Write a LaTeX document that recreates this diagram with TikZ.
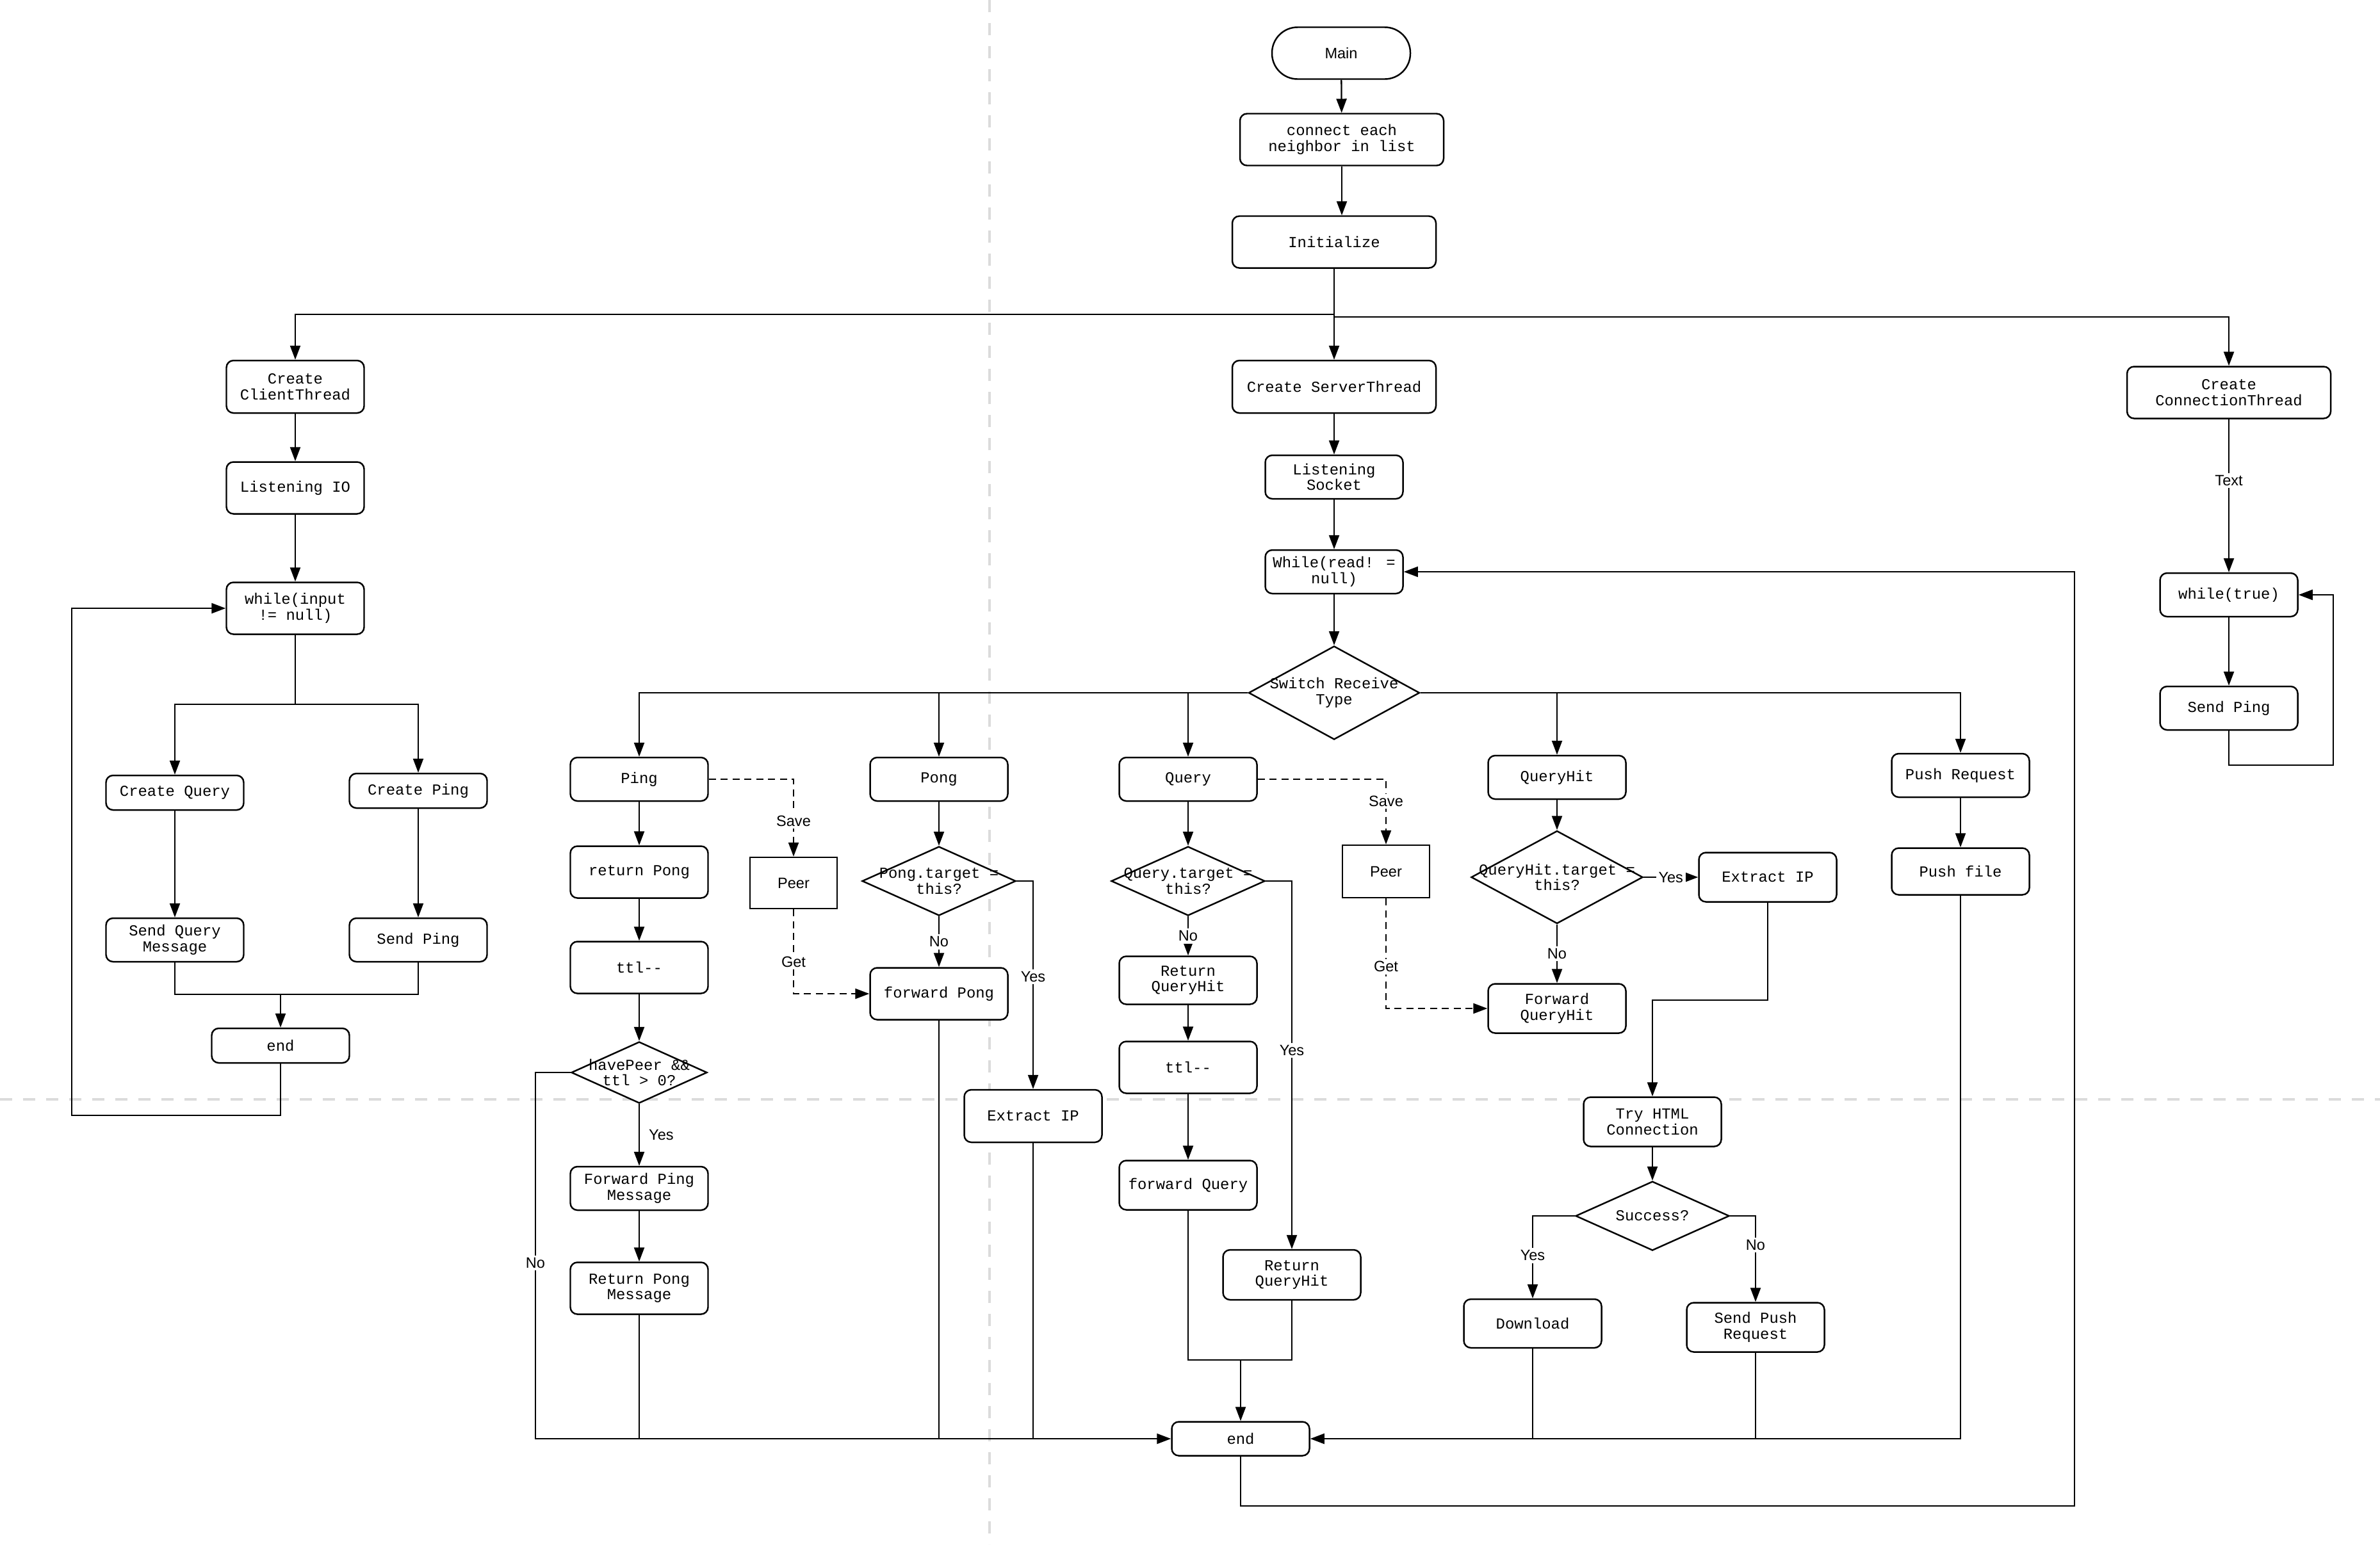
\documentclass[tikz,border=0pt]{standalone}
\usepackage{fontspec}
\setmainfont{Liberation Sans}
\newfontfamily\codefont{Liberation Mono}
\usepackage{tikz}
\usetikzlibrary{arrows.meta,shapes.geometric}
\newcommand{\boxfont}{\codefont\fontsize{6.8}{7}\selectfont}
\newcommand{\lblfont}{\fontsize{6.7}{7}\selectfont}

\begin{document}
\begin{tikzpicture}[
    >={Triangle[length=0.22cm,width=0.16cm]},
    proc/.style={draw, fill=white, rounded corners=0.11cm, line width=0.7pt,
      minimum width=2.15cm, minimum height=0.81cm, inner sep=1pt,
      align=center, font=\boxfont},
    wide/.style={proc, minimum width=3.18cm},
    short/.style={minimum height=0.68cm},
    flat/.style={minimum height=0.54cm},
    start/.style={draw, fill=white, rounded corners=0.4cm, line width=0.7pt,
      minimum width=2.16cm, minimum height=0.81cm, font=\lblfont},
    store/.style={draw, fill=white, line width=0.7pt, minimum width=1.36cm,
      minimum height=0.81cm, font=\lblfont},
    decision/.style={diamond, draw, fill=white, line width=0.7pt, inner sep=0pt,
      minimum width=2.4cm, minimum height=1.08cm},
    dtext/.style={align=center, font=\boxfont, inner sep=0pt},
    link/.style={line width=0.65pt},
    save/.style={line width=0.65pt, dash pattern=on 0.11cm off 0.075cm},
    lbl/.style={fill=white, inner sep=1pt, font=\lblfont},
    guide/.style={draw=black!14, line width=1.3pt, dash pattern=on 0.19cm off 0.17cm}]
  \fill [white] (0,0) rectangle (37.16,-24.12);
  \useasboundingbox (0,0) rectangle (37.16,-24.12);
  \draw [guide] (15.45,0) -- (15.45,-24.12);
  \draw [guide] (0,-17.17) -- (37.16,-17.17);

  \node [start] (MA) at (20.94, -0.83) {Main};
  \node [wide] (MB) at (20.95, -2.18) {connect each\\neighbor in list};
  \node [wide] (MC) at (20.83, -3.78) {Initialize};
  \coordinate (BL) at (20.83, -4.91);
  \coordinate (BR) at (20.83, -4.95);

  \node [proc, minimum height=0.82cm] (LA) at (4.61, -6.04) {Create\\ClientThread};
  \node [proc] (LB) at (4.61, -7.62) {Listening IO};
  \node [proc] (LC) at (4.61, -9.50) {while(input\\!= null)};
  \coordinate (LS) at (4.61, -11.0);
  \node [proc, flat] (LD) at (2.73, -12.38) {Create Query};
  \node [proc, flat] (LE) at (6.53, -12.35) {Create Ping};
  \node [proc, short] (LF) at (2.73, -14.68) {Send Query\\Message};
  \node [proc, short] (LG) at (6.53, -14.68) {Send Ping};
  \coordinate (LM) at (4.38, -15.53);
  \node [proc, flat] (LH) at (4.38, -16.33) {end};
  \coordinate (LX) at (1.12, -17.42);

  \node [wide, minimum height=0.82cm] (SA) at (20.83, -6.04) {Create ServerThread};
  \node [proc, short] (SB) at (20.83, -7.45) {Listening\\Socket};
  \node [proc, short] (SC) at (20.83, -8.93) {While(read! =\\null)};
  \node [decision, minimum width=2.67cm, minimum height=1.46cm,
    label={[dtext]center:{Switch Receive\\Type}}] (SD) at (20.83, -10.82) {};

  \node [proc, short] (PA) at (9.98, -12.17) {Ping};
  \node [proc] (PB) at (9.98, -13.62) {return Pong};
  \node [proc] (PC) at (9.98, -15.11) {ttl-{}-};
  \node [decision, minimum width=2.12cm, minimum height=0.96cm,
    label={[dtext]center:{havePeer \&\&\\ttl > 0?}}] (PD) at (9.98, -16.75) {};
  \coordinate (PX) at (8.36, -16.75);
  \node [proc, short] (PE) at (9.98, -18.56) {Forward Ping\\Message};
  \node [proc] (PF) at (9.98, -20.12) {Return Pong\\Message};
  \node [store, minimum height=0.80cm] (PP) at (12.39, -13.79) {Peer};

  \node [proc, short] (OA) at (14.66, -12.17) {Pong};
  \node [decision, label={[dtext]center:{Pong.target =\\this?}}] (OB) at (14.66, -13.76) {};
  \node [proc] (OC) at (14.66, -15.52) {forward Pong};
  \node [proc, minimum height=0.82cm] (OD) at (16.13, -17.43) {Extract IP};

  \node [proc, short] (QA) at (18.55, -12.17) {Query};
  \node [decision, label={[dtext]center:{Query.target =\\this?}}] (QB) at (18.55, -13.76) {};
  \node [proc, minimum height=0.75cm] (QC) at (18.55, -15.31) {Return\\QueryHit};
  \node [proc] (QD) at (18.55, -16.67) {ttl-{}-};
  \node [proc, minimum height=0.77cm] (QE) at (18.55, -18.51) {forward Query};
  \node [proc, minimum height=0.78cm] (QF) at (20.17, -19.91) {Return\\QueryHit};
  \coordinate (QM) at (19.37, -21.24);
  \node [store, minimum height=0.82cm] (QP) at (21.64, -13.61) {Peer};

  \node [proc, short] (HA) at (24.31, -12.14) {QueryHit};
  \node [decision, minimum width=2.68cm, minimum height=1.45cm,
    label={[dtext]center:{QueryHit.target =\\this?}}] (HB) at (24.31, -13.70) {};
  \node [proc, minimum height=0.77cm] (HC) at (24.31, -15.75) {Forward\\QueryHit};
  \node [proc, minimum height=0.77cm] (HD) at (27.60, -13.70) {Extract IP};
  \coordinate (HY) at (25.80, -15.62);
  \node [proc, minimum height=0.77cm] (HE) at (25.80, -17.52) {Try HTML\\Connection};
  \node [decision, label={[dtext]center:{Success?}}] (HF) at (25.80, -18.99) {};
  \node [proc, minimum height=0.76cm] (HG) at (23.93, -20.67) {Download};
  \node [proc, minimum height=0.77cm] (HH) at (27.41, -20.73) {Send Push\\Request};

  \node [proc, short] (RA) at (30.61, -12.11) {Push Request};
  \node [proc, minimum height=0.73cm] (RB) at (30.61, -13.61) {Push file};

  \node [proc, minimum height=0.53cm] (EN) at (19.37, -22.47) {end};
  \coordinate (EX) at (32.39, -23.52);

  \node [wide] (CA) at (34.80, -6.13) {Create\\ConnectionThread};
  \node [proc, short] (CB) at (34.80, -9.29) {while(true)};
  \node [proc, short] (CC) at (34.80, -11.06) {Send Ping};
  \coordinate (CX) at (36.43, -11.95);

  \draw [link, ->] (MA) -- (MB);
  \draw [link, ->] (MB) -- (MB |- MC.north);
  \draw [link, ->] (MC) -- (SA);
  \draw [link, ->] (MC) -- (BL) -| (LA);
  \draw [link, ->] (BR) -| (CA);

  \draw [link, ->] (LA) -- (LB);
  \draw [link, ->] (LB) -- (LC);
  \draw [link] (LC) -- (LS);
  \draw [link, ->] (LS) -| (LD);
  \draw [link, ->] (LS) -| (LE);
  \draw [link, ->] (LD) -- (LF);
  \draw [link, ->] (LE) -- (LG);
  \draw [link] (LF) |- (LM);
  \draw [link] (LG) |- (LM);
  \draw [link, ->] (LM) -- (LH);
  \draw [link, ->] (LH) |- (LX) |- (LC);

  \draw [link, ->] (SA) -- (SB);
  \draw [link, ->] (SB) -- (SC);
  \draw [link, ->] (SC) -- (SD);
  \draw [link, ->] (SD.west) -| (PA);
  \draw [link, ->] (SD.west) -| (OA);
  \draw [link, ->] (SD.west) -| (QA);
  \draw [link, ->] (SD.east) -| (HA);
  \draw [link, ->] (SD.east) -| (RA);

  \draw [link, ->] (PA) -- (PB);
  \draw [link, ->] (PB) -- (PC);
  \draw [link, ->] (PC) -- (PD);
  \draw [link, ->] (PD) -- node [lbl, right=3pt] {Yes} (PE);
  \draw [link, ->] (PE) -- (PF);
  \draw [link, ->] (PD.west) -- (PX) |- node [lbl, pos=0.26] {No} (EN);
  \draw [link] (PF) -- (PF |- EN);
  \draw [save, ->] (PA.east) -| node [lbl, pos=0.77] {Save} (PP);
  \draw [save, ->] (PP) |- node [lbl, pos=0.31] {Get} (OC);

  \draw [link, ->] (OA) -- (OB);
  \draw [link, ->] (OB) -- node [lbl] {No} (OC);
  \draw [link, ->] (OB.east) -| node [lbl, pos=0.73] {Yes} (OD);
  \draw [link] (OC) -- (OC |- EN);
  \draw [link] (OD) -- (OD |- EN);

  \draw [link, ->] (QA) -- (QB);
  \draw [link, ->] (QB) -- node [lbl] {No} (QC);
  \draw [link, ->] (QC) -- (QD);
  \draw [link, ->] (QD) -- (QE);
  \draw [link, ->] (QB.east) -| node [lbl, pos=0.73] {Yes} (QF);
  \draw [link] (QE) |- (QM);
  \draw [link] (QF) |- (QM);
  \draw [link, ->] (QM) -- (EN);
  \draw [save, ->] (QA.east) -| node [lbl, pos=0.67] {Save} (QP);
  \draw [save, ->] (QP) |- node [lbl, pos=0.31] {Get} (HC);

  \draw [link, ->] (HA) -- (HB);
  \draw [link, ->] (HB) -- node [lbl] {No} (HC);
  \draw [link, ->] (HB.east) -- node [lbl] {Yes} (HD);
  \draw [link, ->] (HD) |- (HY) -- (HE);
  \draw [link, ->] (HE) -- (HF);
  \draw [link, ->] (HF.west) -| node [lbl, pos=0.74] {Yes} (HG);
  \draw [link, ->] (HF.east) -| node [lbl, pos=0.67] {No} (HH);
  \draw [link] (HG) -- (HG |- EN);
  \draw [link] (HH) -- (HH |- EN);

  \draw [link, ->] (RA) -- (RB);
  \draw [link, ->] (RB) |- (EN);
  \draw [link, ->] (EN) |- (EX) |- (SC);

  \draw [link, ->] (CA) -- node [lbl, pos=0.4] {Text} (CB);
  \draw [link, ->] (CB) -- (CC);
  \draw [link, ->] (CC) |- (CX) |- (CB);
\end{tikzpicture}
\end{document}
